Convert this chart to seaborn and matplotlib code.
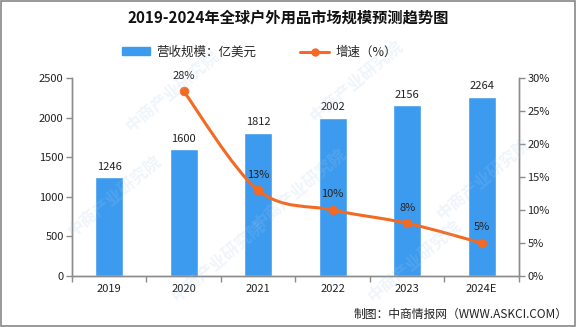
import matplotlib
matplotlib.use("Agg")
import matplotlib.pyplot as plt
import seaborn as sns
import pandas as pd
import numpy as np
from matplotlib.path import Path
from matplotlib.patches import PathPatch, Rectangle, Patch
from matplotlib.lines import Line2D
from matplotlib.ticker import FuncFormatter

years = ["2019", "2020", "2021", "2022", "2023", "2024E"]
revenue = [1246, 1600, 1812, 2002, 2156, 2264]
growth_years = ["2020", "2021", "2022", "2023", "2024E"]
growth = [28, 13, 10, 8, 5]

title = "2019-2024年全球户外用品市场规模预测趋势图"
bar_label = "营收规模：亿美元"
line_label = "增速（%）"
source = "制图：中商情报网（WWW.ASKCI.COM）"
watermark = "中商产业研究院"

sns.set_theme(style="white")
plt.rcParams['font.family'] = ['Noto Sans CJK SC', 'DejaVu Sans']

BLUE = "#3D9BEF"
ORANGE = "#F26A24"
AXC = "#8c8c8c"

fig = plt.figure(figsize=(5.76, 3.27), dpi=100)
ax = fig.add_axes([0.125, 0.156, 0.776, 0.605])

df = pd.DataFrame({"year": years, "revenue": revenue})
sns.barplot(data=df, x="year", y="revenue", color=BLUE, width=0.37, ax=ax,
            saturation=1, zorder=2)
ax.set_ylim(0, 2500)
ax.set_yticks([0, 500, 1000, 1500, 2000, 2500])
ax.set_xlim(-0.5, len(years) - 0.5)
ax.set_xlabel("")
ax.set_ylabel("")
for i, v in enumerate(revenue):
    ax.text(i, v + 70, str(v), ha="center", va="bottom", fontsize=8, color="#222222")

ax2 = ax.twinx()
pos = [years.index(y) for y in growth_years]
# smooth curve (Catmull-Rom -> Bezier) through the data points
pts = np.array(list(zip(pos, growth)), dtype=float)
verts = [tuple(pts[0])]
codes = [Path.MOVETO]
n = len(pts)
for i in range(n - 1):
    p0 = pts[i - 1] if i > 0 else pts[i]
    p1 = pts[i]
    p2 = pts[i + 1]
    p3 = pts[i + 2] if i + 2 < n else pts[i + 1]
    c1 = p1 + (p2 - p0) / 6.0
    c2 = p2 - (p3 - p1) / 6.0
    verts += [tuple(c1), tuple(c2), tuple(p2)]
    codes += [Path.CURVE4] * 3
ax2.add_patch(PathPatch(Path(verts, codes), facecolor="none", edgecolor=ORANGE,
                        lw=2.2, zorder=3))
gdf = pd.DataFrame({"x": pos, "g": growth})
sns.scatterplot(data=gdf, x="x", y="g", color=ORANGE, s=40, edgecolor=ORANGE,
                ax=ax2, zorder=4, legend=False)
for x, g in zip(pos, growth):
    ax2.text(x, g + 1.6, f"{g}%", ha="center", va="bottom", fontsize=8, color="#222222")
ax2.set_ylim(0, 30)
ax2.set_yticks([0, 5, 10, 15, 20, 25, 30])
ax2.yaxis.set_major_formatter(FuncFormatter(lambda v, p: f"{int(v)}%"))
ax2.set_xlim(-0.5, len(years) - 0.5)
ax2.set_xlabel("")
ax2.set_ylabel("")

for a in (ax, ax2):
    a.spines["top"].set_visible(False)
    for s in ["left", "right", "bottom"]:
        a.spines[s].set_color(AXC)
        a.spines[s].set_linewidth(1)
    a.tick_params(axis="both", length=4, width=1, color=AXC, labelsize=8,
                  labelcolor="#222222", direction="out")
ax.tick_params(axis="y", left=True, pad=2)
ax2.tick_params(axis="y", right=True, pad=2)
ax.set_xticks(np.arange(len(years) + 1) - 0.5, minor=True)
ax.tick_params(axis="x", which="major", length=0, pad=6)
ax.tick_params(axis="x", which="minor", bottom=True, length=4, color=AXC, width=1)

handles = [Patch(facecolor=BLUE, edgecolor=BLUE, label=bar_label),
           Line2D([0], [0], color=ORANGE, lw=2.2, marker="o", ms=5, label=line_label)]
fig.legend(handles=handles, loc="center", bbox_to_anchor=(0.45, 0.84), ncol=2,
           frameon=False, fontsize=9, handlelength=2.3, handleheight=0.6,
           columnspacing=3.5, handletextpad=0.5)

fig.text(0.5, 0.945, title, ha="center", va="center", fontsize=11,
         fontweight="bold", color="#111111")
fig.text(0.985, 0.04, source, ha="right", va="center", fontsize=8.5, color="#222222")

# faint watermarks
for (wx, wy) in [(0.3, 0.72), (0.62, 0.75), (0.2, 0.4), (0.52, 0.42),
                 (0.84, 0.45), (0.38, 0.2), (0.72, 0.2)]:
    fig.text(wx, wy, watermark, rotation=40, fontsize=12, fontweight="bold",
             color="#a8c8e8", alpha=0.18, ha="center", va="center", zorder=0)

fig.add_artist(Rectangle((0.001, 0.002), 0.997, 0.995, transform=fig.transFigure,
                         fill=False, edgecolor="#888888", lw=1.2))

fig.savefig("out.png", dpi=100)
